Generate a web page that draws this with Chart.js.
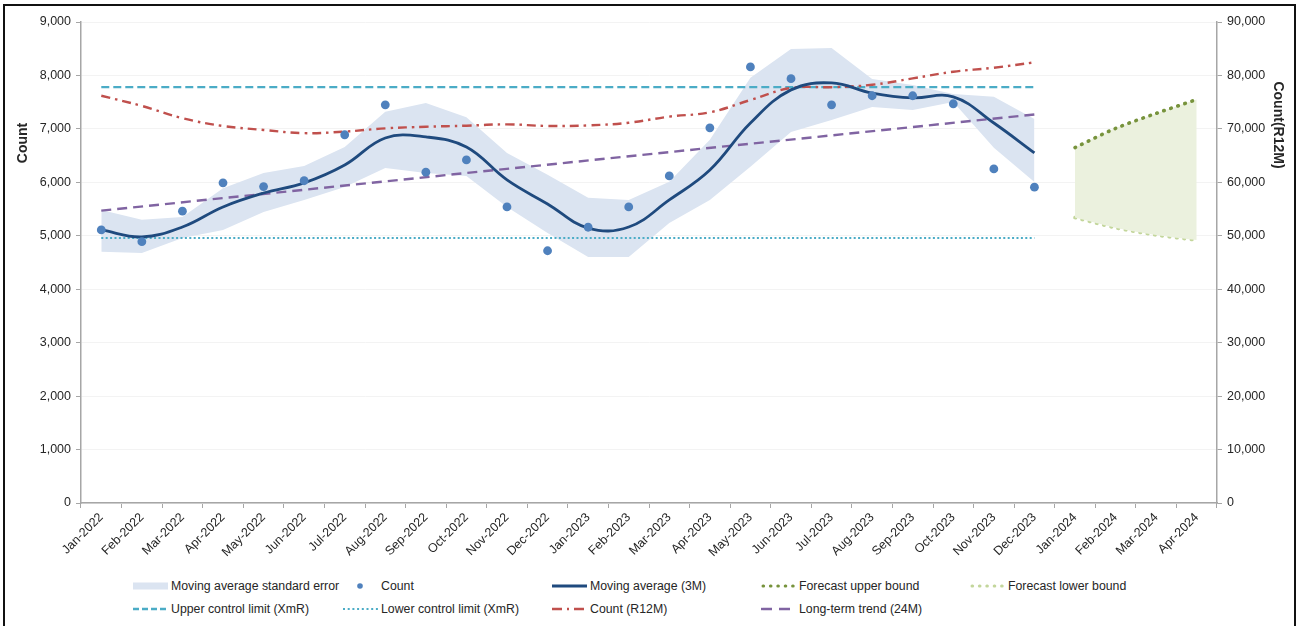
<!DOCTYPE html>
<html>
<head>
<meta charset="utf-8">
<script src="https://cdn.jsdelivr.net/npm/chart.js@4/dist/chart.umd.min.js"></script>
<style>
  html, body { margin: 0; padding: 0; background: #fff; overflow: hidden; }
  #page { position: relative; width: 1301px; height: 626px; }
  #frame { position: absolute; left: 3px; top: 4px; width: 1293px; height: 640px; border: 2px solid #111; box-sizing: border-box; pointer-events: none; }
  #chart { position: absolute; left: 0; top: 0; }
  .lg-item { position: absolute; height: 16px; display: flex; align-items: center; white-space: nowrap;
             font-family: "Liberation Sans", Arial, sans-serif; font-size: 12.3px; color: #262626; }
  .lg-item svg { flex: none; margin-right: 2px; }
</style>
</head>
<body>
<div id="page">
  <canvas id="chart" width="1301" height="560"></canvas>
  <div id="legend"></div>
  <div id="frame"></div>
</div>
<script>
// Month categories (actuals Jan-2022..Dec-2023, forecast Jan-2024..Apr-2024)
const months = [
  'Jan-2022','Feb-2022','Mar-2022','Apr-2022','May-2022','Jun-2022',
  'Jul-2022','Aug-2022','Sep-2022','Oct-2022','Nov-2022','Dec-2022',
  'Jan-2023','Feb-2023','Mar-2023','Apr-2023','May-2023','Jun-2023',
  'Jul-2023','Aug-2023','Sep-2023','Oct-2023','Nov-2023','Dec-2023',
  'Jan-2024','Feb-2024','Mar-2024','Apr-2024'
];

// Monthly count
const countValues = [5110, 4890, 5460, 5990, 5920, 6030, 6890, 7450, 6190, 6420, 5540, 4720,
                     5160, 5540, 6120, 7020, 8160, 7940, 7450, 7620, 7620, 7470, 6250, 5910];

// 3-month moving average and its standard-error band
const movingAverage3M = [5110, 4980, 5165, 5540, 5800, 5990, 6325, 6830, 6850, 6660, 6045, 5595,
                         5145, 5165, 5670, 6230, 7110, 7730, 7860, 7670, 7580, 7600, 7110, 6550];
const maErrorUpper = [5480, 5300, 5350, 5890, 6175, 6305, 6660, 7320, 7485, 7220, 6550, 6140,
                      5710, 5670, 6010, 6795, 7955, 8495, 8515, 7935, 7820, 7655, 7600, 7185];
const maErrorLower = [4700, 4680, 4960, 5110, 5445, 5670, 5915, 6270, 6175, 6120, 5540, 5050,
                      4605, 4605, 5240, 5670, 6290, 6940, 7165, 7410, 7355, 7505, 6645, 6005];

// Rolling 12-month count (right axis)
const countR12M = [76200, 74300, 72000, 70550, 69800, 69200, 69500, 70100, 70400, 70600, 70850, 70550,
                   70650, 71150, 72300, 73100, 75400, 77650, 77800, 78250, 79450, 80700, 81450, 82450];

// XmR control limits (start/end of the actual period)
const upperControlLimit = [7780, 7780];
const lowerControlLimit = [4960, 4960];

// Long-term trend line (24M): first and last month
const trend24M = [5470, 7270];

// Forecast bounds for Jan-2024..Apr-2024
const forecastUpper = [6650, 7010, 7290, 7550];
const forecastLower = [5340, 5150, 5015, 4920];

// y-axis ticks
const leftTicks = [0, 1000, 2000, 3000, 4000, 5000, 6000, 7000, 8000, 9000];
const rightTicks = [0, 10000, 20000, 30000, 40000, 50000, 60000, 70000, 80000, 90000];

// ---- helpers to lay values onto the month axis ----
const lastActual = countValues.length - 1;
const fromIndex = (vals, offset) => months.map((_, i) => {
  const k = i - offset;
  return k >= 0 && k < vals.length ? vals[k] : null;
});
const atEnds = (pair) => months.map((_, i) => i === 0 ? pair[0] : (i === lastActual ? pair[1] : null));

const C = {
  band: '#dbe4f1', dots: '#4f81bd', ma: '#1f4a7e', xmr: '#4bacc6',
  r12m: '#c0504d', trend: '#8064a2', fcUp: '#77933c', fcLow: '#c3d69b', fcFill: '#ebf1de',
  axis: '#a6a6a6', grid: '#f3f3f3', text: '#262626'
};

Chart.defaults.font.family = '"Liberation Sans", Arial, sans-serif';
Chart.defaults.font.size = 12.5;
Chart.defaults.color = C.text;

const datasets = [
  { label: 'Count', data: fromIndex(countValues, 0), yAxisID: 'y', showLine: false,
    pointRadius: 4.4, pointBackgroundColor: C.dots, pointBorderWidth: 0, borderColor: C.dots,
    backgroundColor: C.dots, legendKind: 'point' },
  { label: 'Moving average (3M)', data: fromIndex(movingAverage3M, 0), yAxisID: 'y',
    borderColor: C.ma, borderWidth: 2.8, tension: 0.4, pointRadius: 0, fill: false },
  { label: 'Count (R12M)', data: fromIndex(countR12M, 0), yAxisID: 'y2',
    borderColor: C.r12m, borderWidth: 2.4, borderDash: [9, 5, 2.5, 5], tension: 0.4, pointRadius: 0, fill: false,
    legendDash: [10, 5, 2, 5] },
  { label: 'Long-term trend (24M)', data: atEnds(trend24M), yAxisID: 'y', spanGaps: true,
    borderColor: C.trend, borderWidth: 2.4, borderDash: [10, 6], pointRadius: 0, fill: false,
    legendDash: [11, 7] },
  { label: 'Upper control limit (XmR)', data: atEnds(upperControlLimit), yAxisID: 'y', spanGaps: true,
    borderColor: C.xmr, borderWidth: 2.3, borderDash: [8, 4], pointRadius: 0, fill: false,
    legendDash: [6, 3] },
  { label: 'Lower control limit (XmR)', data: atEnds(lowerControlLimit), yAxisID: 'y', spanGaps: true,
    borderColor: C.xmr, borderWidth: 2, borderDash: [2, 2.4], pointRadius: 0, fill: false,
    legendDash: [2, 2.7] },
  { label: 'Forecast upper bound', data: fromIndex(forecastUpper, countValues.length), yAxisID: 'y',
    borderColor: C.fcUp, borderWidth: 3.6, borderDash: [0.6, 6.8], borderCapStyle: 'round',
    tension: 0.3, pointRadius: 0, fill: { target: 7 }, backgroundColor: C.fcFill },
  { label: 'Forecast lower bound', data: fromIndex(forecastLower, countValues.length), yAxisID: 'y',
    borderColor: C.fcLow, borderWidth: 3.6, borderDash: [0.6, 6.8], borderCapStyle: 'round',
    tension: 0.3, pointRadius: 0, fill: false },
  { label: 'Moving average standard error', data: fromIndex(maErrorUpper, 0), yAxisID: 'y',
    borderWidth: 0, borderColor: 'rgba(0,0,0,0)', backgroundColor: C.band, pointRadius: 0,
    tension: 0, fill: { target: 9 }, legendKind: 'box' },
  { label: 'Moving average standard error (lower)', data: fromIndex(maErrorLower, 0), yAxisID: 'y',
    borderWidth: 0, borderColor: 'rgba(0,0,0,0)', pointRadius: 0, tension: 0, fill: false }
];

// Axis titles drawn at fixed spots beside the axes
const axisTitles = {
  id: 'axisTitles',
  afterDraw(chart) {
    const ctx = chart.ctx;
    const put = (text, x, y, angle) => {
      ctx.save();
      ctx.fillStyle = C.text;
      ctx.font = 'bold 14px "Liberation Sans", Arial, sans-serif';
      ctx.textAlign = 'center';
      ctx.textBaseline = 'middle';
      ctx.translate(x, y);
      ctx.rotate(angle);
      ctx.fillText(text, 0, 0);
      ctx.restore();
    };
    put('Count', 23, 143, -Math.PI / 2);
    put('Count(R12M)', 1278, 125, Math.PI / 2);
  }
};

const chart = new Chart(document.getElementById('chart'), {
  type: 'line',
  data: { labels: months, datasets },
  options: {
    responsive: false,
    animation: false,
    devicePixelRatio: 1,
    layout: { padding: { top: 22, left: 0, right: 0, bottom: 0 } },
    plugins: { legend: { display: false }, tooltip: { enabled: false }, filler: { propagate: false } },
    scales: {
      x: {
        offset: true,
        grid: { offset: true, drawOnChartArea: false, tickLength: 5, color: C.axis, lineWidth: 1 },
        border: { color: C.axis, width: 1.5 },
        ticks: { autoSkip: false, minRotation: 45, maxRotation: 45, padding: 2 },
        afterFit(scale) { scale.height = 57; }
      },
      y: {
        position: 'left', min: 0, max: 9000,
        afterBuildTicks(scale) { scale.ticks = leftTicks.map(v => ({ value: v })); },
        grid: { color: C.grid, tickColor: C.axis, tickLength: 5, lineWidth: 1 },
        border: { color: C.axis, width: 1.5 },
        ticks: { padding: 5 },
        afterFit(scale) { scale.width = 81; }
      },
      y2: {
        position: 'right', min: 0, max: 90000,
        afterBuildTicks(scale) { scale.ticks = rightTicks.map(v => ({ value: v })); },
        grid: { drawOnChartArea: false, color: C.axis, tickLength: 5, lineWidth: 1 },
        border: { color: C.axis, width: 1.5 },
        ticks: { padding: 5 },
        afterFit(scale) { scale.width = 84; }
      }
    }
  },
  plugins: [axisTitles]
});

// Legend laid out on a fixed grid below the plot
const legendRows = [
  ['Moving average standard error', 'Count', 'Moving average (3M)', 'Forecast upper bound', 'Forecast lower bound'],
  ['Upper control limit (XmR)', 'Lower control limit (XmR)', 'Count (R12M)', 'Long-term trend (24M)']
];
const legendCols = [133, 343, 552, 761, 970];
const legendRowY = [586, 609];

function symbolFor(ds) {
  const ns = 'http://www.w3.org/2000/svg';
  const svg = document.createElementNS(ns, 'svg');
  svg.setAttribute('width', '36');
  svg.setAttribute('height', '12');
  let el;
  if (ds.legendKind === 'box') {
    el = document.createElementNS(ns, 'rect');
    el.setAttribute('x', '0'); el.setAttribute('y', '2.5');
    el.setAttribute('width', '35'); el.setAttribute('height', '7');
    el.setAttribute('fill', ds.backgroundColor);
  } else if (ds.legendKind === 'point') {
    el = document.createElementNS(ns, 'circle');
    el.setAttribute('cx', '17'); el.setAttribute('cy', '6'); el.setAttribute('r', '2.8');
    el.setAttribute('fill', ds.pointBackgroundColor);
  } else {
    el = document.createElementNS(ns, 'line');
    const round = ds.borderCapStyle === 'round';
    el.setAttribute('x1', round ? '2' : '0'); el.setAttribute('y1', '6');
    el.setAttribute('x2', '35'); el.setAttribute('y2', '6');
    el.setAttribute('stroke', ds.borderColor);
    el.setAttribute('stroke-width', String(Math.min(ds.borderWidth, 3)));
    const dash = ds.legendDash || ds.borderDash;
    if (dash) el.setAttribute('stroke-dasharray', dash.join(' '));
    el.setAttribute('stroke-linecap', round ? 'round' : 'butt');
  }
  svg.appendChild(el);
  return svg;
}

const legendBox = document.getElementById('legend');
legendRows.forEach((row, r) => {
  row.forEach((label, c) => {
    const ds = chart.data.datasets.find(d => d.label === label);
    const item = document.createElement('div');
    item.className = 'lg-item';
    item.style.left = legendCols[c] + 'px';
    item.style.top = (legendRowY[r] - 8) + 'px';
    item.appendChild(symbolFor(ds));
    const span = document.createElement('span');
    span.textContent = label;
    item.appendChild(span);
    legendBox.appendChild(item);
  });
});
</script>
</body>
</html>
